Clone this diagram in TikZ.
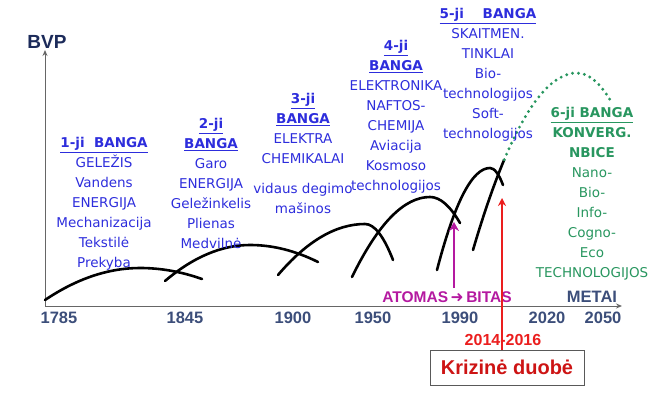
\documentclass[tikz,border=0pt]{standalone}
\usepackage{fontspec}
\setmainfont{Liberation Sans}
\newfontfamily\wf{DejaVu Sans}
\usetikzlibrary{arrows.meta}
\definecolor{wblue}{RGB}{45,45,220}
\definecolor{wgreen}{RGB}{40,150,95}
\definecolor{axcol}{RGB}{60,78,122}
\definecolor{bvpcol}{RGB}{28,43,90}
\definecolor{mag}{RGB}{180,25,160}
\definecolor{rred}{RGB}{235,30,30}
\definecolor{dred}{RGB}{205,20,20}
\tikzset{
  wave/.style={line width=2.6pt, line cap=round},
  wavetext/.style={anchor=north, inner sep=0pt, align=center, font=\wf\fontsize{13.5}{20}\selectfont},
  year/.style={font=\bfseries\fontsize{16.5}{16.5}\selectfont, text=axcol, inner sep=0pt},
  axisline/.style={draw=gray!80!black, line width=1pt},
}
\newcommand{\hd}[1]{\underline{\textbf{#1}}}
\begin{document}
\begin{tikzpicture}[x=1pt,y=1pt]
\useasboundingbox (0,0) rectangle (659,397);
% axes
\coordinate (o) at (45,91);
\coordinate (ytop) at (45,347);
\coordinate (xend) at (622,91);
\draw[axisline,-{Stealth[length=6pt,width=5pt]}] (o) -- (ytop);
\draw[axisline,-{Stealth[length=6pt,width=5pt]}] (o) -- (xend);
\node[font=\bfseries\fontsize{19}{19}\selectfont, text=bvpcol, inner sep=0pt] (bvp) at (47,355) {BVP};
\node[font=\bfseries\fontsize{16.5}{16.5}\selectfont, text=axcol, inner sep=0pt] (metai) at (592,100) {METAI};
% years
\node[year] (y1) at (59,79) {1785};
\node[year] (y2) at (185,79) {1845};
\node[year] (y3) at (293,79) {1900};
\node[year] (y4) at (373,79) {1950};
\node[year] (y5) at (460,79) {1990};
\node[year] (y6) at (547,79) {2020};
\node[year] (y7) at (603,79) {2050};
% waves
\draw[wave] (45,97) .. controls (76.7,118.3) and (108.3,129) .. (140,129)
                    .. controls (160.7,129) and (181.3,125.3) .. (202,118);
\draw[wave] (165,116) .. controls (193.3,140) and (221.7,152) .. (250,152)
                      .. controls (272.7,152) and (295.3,146.3) .. (318,135);
\draw[wave] (278,122) .. controls (307,156) and (336,173) .. (365,173)
                      .. controls (374.3,173) and (383.7,161) .. (393,137);
\draw[wave] (352,120) .. controls (378,173.3) and (404,200) .. (430,200)
                      .. controls (440,200) and (450,191.3) .. (460,174);
\draw[wave] (437,127) .. controls (454.7,195) and (472.3,229) .. (490,229)
                      .. controls (494.3,229) and (498.7,223.3) .. (503,212);
\draw[wave] (473,147) .. controls (483.4,182.4) and (493.8,212.5) .. (504.2,237.3);
\draw[wgreen, line width=3.2pt, line cap=round, dash pattern=on 0pt off 6pt]
  (504.2,237.3) .. controls (528.5,295.1) and (552.7,324) .. (577,324)
                .. controls (588.7,324) and (600.3,314) .. (612,294);
% texts
\node[wavetext, text=wblue] (w1) at (104,260) {\hd{1-ji\ \ BANGA}\\GELEŽIS\\Vandens\\ENERGIJA\\Mechanizacija\\Tekstilė\\Prekyba};
\node[wavetext, text=wblue] (w2) at (211,279) {\hd{2-ji}\\\hd{BANGA}\\Garo\\ENERGIJA\\Geležinkelis\\Plienas\\Medvilnė};
\node[wavetext, text=wblue] (w3) at (303,304) {\hd{3-ji}\\\hd{BANGA}\\ELEKTRA\\CHEMIKALAI\\[10pt]vidaus degimo\\mašinos};
\node[wavetext, text=wblue] (w4) at (396,357) {\hd{4-ji}\\\hd{BANGA}\\ELEKTRONIKA\\NAFTOS-\\CHEMIJA\\Aviacija\\Kosmoso\\technologijos};
\node[wavetext, text=wblue] (w5) at (488,389) {\hd{5-ji\ \ \ \ BANGA}\\SKAITMEN.\\TINKLAI\\Bio-\\technologijos\\Soft-\\technologijos};
\node[wavetext, text=wgreen] (w6) at (592,290) {\hd{6-ji BANGA}\\\textbf{KONVERG.}\\\textbf{NBICE}\\Nano-\\Bio-\\Info-\\Cogno-\\Eco\\TECHNOLOGIJOS};
% atomas -> bitas
\node[font=\bfseries\fontsize{15.5}{15.5}\selectfont, text=mag, inner sep=0pt] (ab) at (447,100) {ATOMAS\,{\wf\bfseries ➜}\,BITAS};
\coordinate (magbot) at (454,109);
\coordinate (magtop) at (454,175);
\draw[mag, line width=2.6pt, -{Stealth[length=9pt,width=10pt]}] (magbot) -- (magtop);
% crisis
\node[draw=gray!70!black, line width=0.8pt, minimum width=154pt, minimum height=35pt, inner sep=0pt,
  font=\bfseries\fontsize{20}{20}\selectfont, text=dred] (box) at (507,29.5) {Krizinė duobė};
\node[font=\bfseries\fontsize{16}{16}\selectfont, text=rred, inner sep=0pt] (yrs) at (503,57) {2014-2016};
\coordinate (redtop) at (502,199);
\draw[rred, line width=1.6pt, -{Stealth[length=8pt,width=8pt]}] (box.north -| redtop) -- (redtop);
\end{tikzpicture}
\end{document}
